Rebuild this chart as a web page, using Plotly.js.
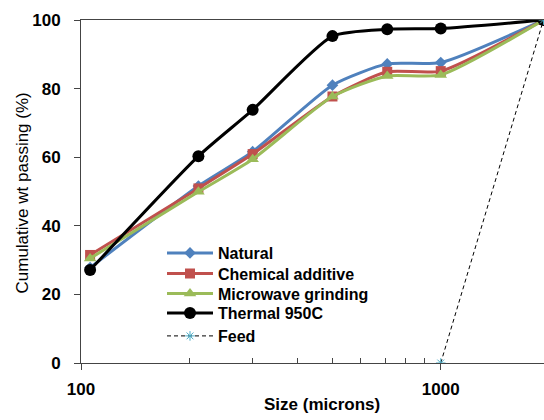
<!DOCTYPE html>
<html>
<head>
<meta charset="utf-8">
<script src="https://cdn.plot.ly/plotly-3.0.1.min.js"></script>
<style>
  html, body { margin: 0; padding: 0; background: #fff; }
  #chart { width: 544px; height: 420px; }
</style>
</head>
<body>
<div id="chart"></div>
<script>
// Sieve sizes (microns) and cumulative weight passing (%)
const sizes = [106, 212, 300, 500, 710, 1000, 1930];
const natural = [27.8, 51.6, 61.6, 81.0, 87.2, 87.6, 100];
const chemical = [31.5, 50.9, 60.9, 77.7, 84.9, 85.1, 100];
const microwave = [30.5, 49.9, 59.4, 77.7, 83.7, 84.0, 100];
const thermal = [27.1, 60.3, 73.8, 95.3, 97.3, 97.5, 100];
const feedSizes = [1000, 1930];
const feed = [0, 100];

const xTicks = [100, 1000];
const xMinorTicks = [200, 300, 400, 500, 600, 700, 800, 900];
const yTicks = [0, 20, 40, 60, 80, 100];

// Plot area geometry (px), used to place the legend rows and axis titles
const W = 544, H = 420;
const M = { l: 81, r: 0, t: 20, b: 57 };
const plotW = W - M.l - M.r, plotH = H - M.t - M.b;
const px2x = px => (px - M.l) / plotW;
const px2y = py => (H - M.b - py) / plotH;

function series(name, y, color, symbol, size, legendId) {
  return {
    type: 'scatter', mode: 'lines+markers', name: name,
    x: sizes, y: y, legend: legendId,
    line: { color: color, width: 3, shape: 'spline', smoothing: 0.6 },
    marker: { color: color, symbol: symbol, size: size }
  };
}

const data = [
  series('Natural', natural, '#4F81BD', 'diamond', 9, 'legend'),
  series('Chemical additive', chemical, '#C0504D', 'square', 10, 'legend2'),
  series('Microwave grinding', microwave, '#9BBB59', 'triangle-up', 11, 'legend3'),
  series('Thermal 950C', thermal, '#000000', 'circle', 12, 'legend4'),
  {
    type: 'scatter', mode: 'lines+markers', name: 'Feed', legend: 'legend5',
    x: feedSizes, y: feed,
    line: { color: '#000000', width: 1, dash: '4px,3px' },
    marker: { color: '#4BACC6', symbol: 'asterisk-open', size: 8, line: { color: '#4BACC6', width: 1 } }
  }
];

// one legend box per row so the rows sit tightly stacked
const legendRows = [253, 273.5, 293.5, 313, 336];
function legendBox(rowY) {
  return {
    x: px2x(162), y: px2y(rowY), xanchor: 'left', yanchor: 'middle',
    bgcolor: 'rgba(0,0,0,0)', itemwidth: 46,
    font: { size: 16, weight: 'bold', color: '#000' }
  };
}

const layout = {
  width: W, height: H,
  margin: M,
  paper_bgcolor: '#ffffff', plot_bgcolor: '#ffffff',
  font: { family: 'Liberation Sans, Arial, sans-serif', color: '#000' },
  showlegend: true,
  legend: legendBox(legendRows[0]),
  legend2: legendBox(legendRows[1]),
  legend3: legendBox(legendRows[2]),
  legend4: legendBox(legendRows[3]),
  legend5: legendBox(legendRows[4]),
  xaxis: {
    type: 'log', range: [2, 3.287], autorange: false,
    tickvals: xTicks, ticktext: xTicks.map(String),
    ticks: 'outside', ticklen: 6, tickcolor: '#444',
    showline: true, linecolor: '#444', linewidth: 1, mirror: true,
    showgrid: false, zeroline: false,
    ticklabelstandoff: 5,
    tickfont: { size: 17, weight: 'bold' },
    minor: { tickvals: xMinorTicks, ticks: 'inside', ticklen: 5, tickcolor: '#444', showgrid: false }
  },
  yaxis: {
    range: [0, 100], autorange: false,
    tickvals: yTicks,
    ticks: 'outside', ticklen: 6, tickcolor: '#444',
    showline: true, linecolor: '#444', linewidth: 1,
    showgrid: false, zeroline: false,
    ticklabelstandoff: 10,
    tickfont: { size: 17, weight: 'bold' }
  },
  annotations: [
    {
      text: 'Size (microns)', xref: 'paper', yref: 'paper',
      x: px2x(322), y: px2y(404.5), xanchor: 'center', yanchor: 'middle',
      showarrow: false, font: { size: 17, weight: 'bold' }
    },
    {
      text: 'Cumulative wt passing (%)', xref: 'paper', yref: 'paper',
      x: px2x(22.5), y: px2y(193), xanchor: 'center', yanchor: 'middle',
      textangle: -90, showarrow: false, font: { size: 17 }
    }
  ]
};

Plotly.newPlot('chart', data, layout, { displayModeBar: false, staticPlot: true });
</script>
</body>
</html>
